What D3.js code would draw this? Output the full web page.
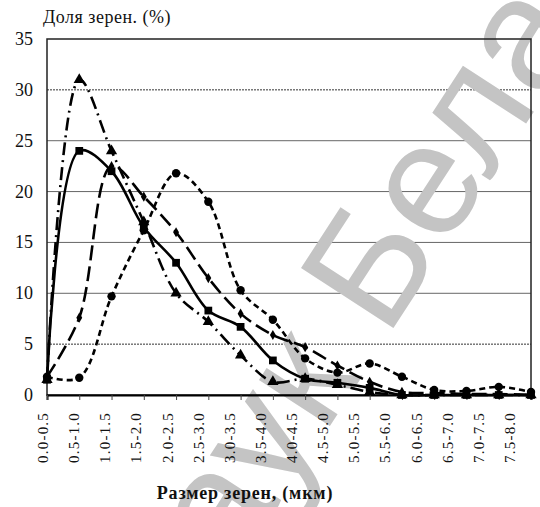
<!DOCTYPE html>
<html>
<head>
<meta charset="utf-8">
<script src="https://cdn.jsdelivr.net/npm/d3@7"></script>
<style>
  body { margin: 0; background: #fff; }
  svg { display: block; }
  svg text.serif { font-family: "Liberation Serif", "DejaVu Serif", serif; }
</style>
</head>
<body>
<div id="chart"></div>
<script>
'use strict';

// Grain size classes (mkm)
const categories = ["0.0-0.5", "0.5-1.0", "1.0-1.5", "1.5-2.0", "2.0-2.5", "2.5-3.0", "3.0-3.5", "3.5-4.0",
    "4.0-4.5", "4.5-5.0", "5.0-5.5", "5.5-6.0", "6.0-6.5", "6.5-7.0", "7.0-7.5", "7.5-8.0"];
const yTicks = [0, 5, 10, 15, 20, 25, 30, 35];
const dottedTicks = [5, 30];

// Share of grains (%)
const squareSeries   = [1.5, 24.0, 22.0, 16.5, 13.0, 8.3, 6.7, 3.4, 1.6, 1.2, 0.7, 0.0, 0.0, 0.0, 0.0, 0.0];
const triangleSeries = [1.5, 31.0, 24.0, 17.0, 10.0, 7.2, 3.9, 1.3, 1.6, 1.0, 0.3, 0.0, 0.0, 0.0, 0.0, 0.0];
const diamondSeries  = [1.8, 7.6, 22.5, 19.5, 16.0, 11.5, 8.0, 5.9, 4.7, 2.9, 1.3, 0.3, 0.2, 0.1, 0.1, 0.0];
const circleSeries   = [1.8, 1.7, 9.7, 16.2, 21.8, 19.0, 10.3, 7.4, 3.6, 2.2, 3.1, 1.8, 0.5, 0.4, 0.8, 0.3];

const width = 540, height = 507;
const margin = { top: 39, right: 9, bottom: 112, left: 47 };

const series = [
    { values: circleSeries,   dash: "6 4",        symbol: d3.symbolCircle,   size: 55 },
    { values: diamondSeries,  dash: "15 6",       symbol: d3.symbolDiamond,  size: 30 },
    { values: triangleSeries, dash: "13 5 2 5",   symbol: d3.symbolTriangle, size: 55 },
    { values: squareSeries,   dash: null,         symbol: d3.symbolSquare,   size: 60 }
];

const svg = d3.select("#chart").append("svg")
    .attr("width", width)
    .attr("height", height);

const x = d3.scalePoint()
    .domain(categories)
    .range([margin.left, width - margin.right]);

// tick labels in the picture sit a little to the left of the ticks
const xLabel = d3.scalePoint()
    .domain(categories)
    .range([43, 510]);

const y = d3.scaleLinear()
    .domain([0, 35])
    .range([height - margin.bottom, margin.top]);

// Grid
svg.append("g")
    .selectAll("line")
    .data(yTicks.filter(d => d > 0 && d < 35))
    .join("line")
    .attr("x1", margin.left)
    .attr("x2", width - margin.right)
    .attr("y1", d => y(d))
    .attr("y2", d => y(d))
    .attr("stroke", d => dottedTicks.includes(d) ? "#333" : "#666")
    .attr("stroke-width", 1)
    .attr("stroke-dasharray", d => dottedTicks.includes(d) ? "2 1" : null);

// Watermark
svg.append("text")
    .attr("transform", "translate(170,672) rotate(-57)")
    .style("font-family", "'Liberation Sans', Arial, sans-serif")
    .attr("font-size", 160)
    .attr("fill", "#c4c4c4")
    .text("Наук Беларуси");

// Plot frame
svg.append("rect")
    .attr("x", margin.left)
    .attr("y", margin.top)
    .attr("width", width - margin.left - margin.right)
    .attr("height", height - margin.top - margin.bottom)
    .attr("fill", "none")
    .attr("stroke", "#222")
    .attr("stroke-width", 1.5);

// X axis ticks
const axisX = svg.append("g")
    .attr("transform", `translate(0,${y(0)})`)
    .call(d3.axisBottom(x).tickSize(5).tickFormat(""));
axisX.select(".domain").attr("stroke", "#000").attr("stroke-width", 2);
axisX.selectAll(".tick line").attr("stroke", "#444");

svg.append("g")
    .selectAll("text")
    .data(categories)
    .join("text")
    .classed("serif", true)
    .attr("transform", d => `translate(${xLabel(d)},412) rotate(-90)`)
    .attr("text-anchor", "end")
    .attr("dominant-baseline", "central")
    .attr("font-size", 15)
    .attr("letter-spacing", 1.2)
    .attr("fill", "#111")
    .text(d => d);

// Y axis labels
svg.append("g")
    .selectAll("text")
    .data(yTicks)
    .join("text")
    .classed("serif", true)
    .attr("x", 33)
    .attr("y", d => y(d))
    .attr("text-anchor", "end")
    .attr("dominant-baseline", "central")
    .attr("font-size", 18)
    .attr("fill", "#111")
    .text(d => d);

// Titles
svg.append("text")
    .classed("serif", true)
    .attr("x", 43)
    .attr("y", 23)
    .attr("font-size", 18)
    .attr("letter-spacing", 0.5)
    .attr("fill", "#111")
    .text("Доля зерен. (%)");

svg.append("text")
    .classed("serif", true)
    .attr("x", 245)
    .attr("y", 499)
    .attr("text-anchor", "middle")
    .attr("font-size", 18)
    .attr("letter-spacing", 0.8)
    .attr("font-weight", "bold")
    .attr("fill", "#111")
    .text("Размер зерен, (мкм)");

// Lines
const line = d3.line()
    .x((d, i) => x(categories[i]))
    .y(d => y(d))
    .curve(d3.curveCatmullRom.alpha(0.5));

const seriesG = svg.append("g")
    .selectAll("g")
    .data(series)
    .join("g");

seriesG.append("path")
    .attr("d", s => line(s.values))
    .attr("fill", "none")
    .attr("stroke", "#000")
    .attr("stroke-width", 2.6)
    .attr("stroke-dasharray", s => s.dash);

seriesG.selectAll("path.marker")
    .data(s => s.values.map((v, i) => ({ v, i, s })))
    .join("path")
    .classed("marker", true)
    .attr("transform", d => `translate(${x(categories[d.i])},${y(d.v)})`)
    .attr("d", d => d3.symbol(d.s.symbol, d.s.size)())
    .attr("fill", "#000");
</script>
</body>
</html>
